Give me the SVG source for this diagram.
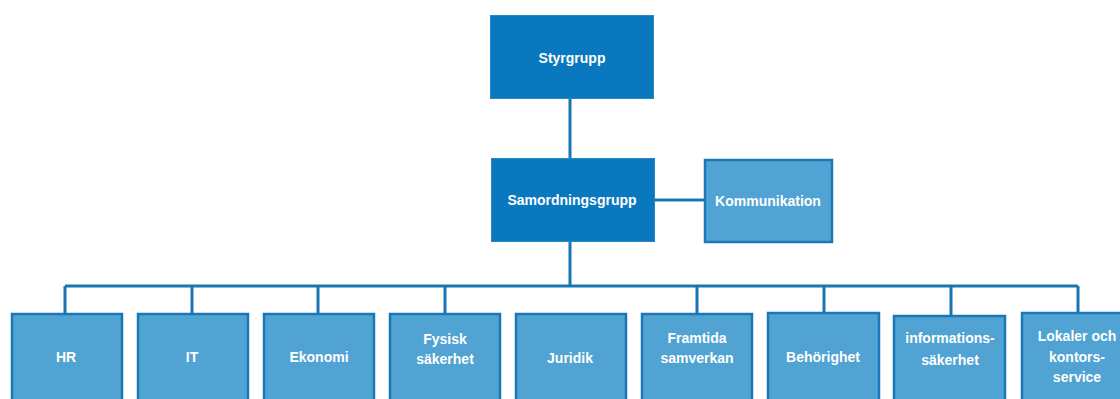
<svg xmlns="http://www.w3.org/2000/svg" width="1120" height="399" viewBox="0 0 1120 399">
<style>
.dk{fill:#0a78be;stroke:#2a86c4;stroke-width:1}
.lt{fill:#50a3d2;stroke:#1b77b5;stroke-width:2.5}
.t{font-family:"Liberation Sans",Arial,sans-serif;font-weight:bold;font-size:14px;fill:#ffffff;text-anchor:middle}
.c{stroke:#1a76b3;stroke-width:3;fill:none}
</style>
<rect width="1120" height="399" fill="#ffffff"/>
<g id="connectors">
<path class="c" d="M570 98V158M570 241V286M654 200H704M65 286H1078M65 286V313M192 286V313M318 286V313M445 286V313M697 286V313M824 286V312M951 286V315M1078 286V312"/>
</g>
<g id="styrgrupp"><rect class="dk" x="490.5" y="15.5" width="163" height="83"/><text class="t" x="572" y="63">Styrgrupp</text></g>
<g id="samordningsgrupp"><rect class="dk" x="491.5" y="158.5" width="163" height="83"/><text class="t" x="572" y="205">Samordningsgrupp</text></g>
<g id="kommunikation"><rect class="lt" x="705" y="160" width="127" height="82"/><text class="t" x="768" y="206">Kommunikation</text></g>
<g id="hr"><rect class="lt" x="12" y="314" width="110" height="95"/><text class="t" x="66" y="362">HR</text></g>
<g id="it"><rect class="lt" x="138" y="314" width="110" height="95"/><text class="t" x="192" y="362">IT</text></g>
<g id="ekonomi"><rect class="lt" x="264" y="314" width="110" height="95"/><text class="t" x="319" y="362">Ekonomi</text></g>
<g id="fysisk"><rect class="lt" x="390" y="314" width="110" height="95"/><text class="t" x="445" y="344">Fysisk</text><text class="t" x="445" y="364">säkerhet</text></g>
<g id="juridik"><rect class="lt" x="516" y="314" width="110" height="95"/><text class="t" x="570" y="363">Juridik</text></g>
<g id="framtida"><rect class="lt" x="642" y="314" width="110" height="95"/><text class="t" x="697" y="343">Framtida</text><text class="t" x="697" y="363">samverkan</text></g>
<g id="behorighet"><rect class="lt" x="768" y="313" width="111" height="95"/><text class="t" x="823" y="362">Behörighet</text></g>
<g id="informationssakerhet"><rect class="lt" x="894" y="316" width="111" height="95"/><text class="t" x="950" y="343">informations-</text><text class="t" x="950" y="365">säkerhet</text></g>
<g id="lokaler"><rect class="lt" x="1022" y="313" width="110" height="95"/><text class="t" x="1077" y="341">Lokaler och</text><text class="t" x="1077" y="362">kontors-</text><text class="t" x="1077" y="382">service</text></g>
</svg>
